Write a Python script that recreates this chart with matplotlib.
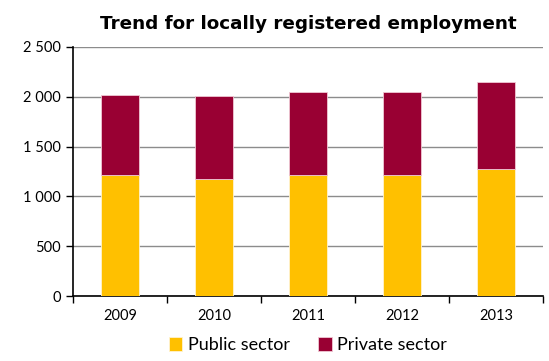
import numpy as np
import matplotlib.pyplot as plt
from matplotlib.ticker import FuncFormatter

plt.rcParams['font.family'] = ['Lato', 'DejaVu Sans']

years = ['2009', '2010', '2011', '2012', '2013']
public = [1211, 1178, 1211, 1211, 1275]
private = [805, 828, 839, 839, 872]

yellow = '#FFC000'
maroon = '#990033'

fig = plt.figure(figsize=(5.49, 3.61), dpi=100)
ax = fig.add_axes([0.133, 0.18, 0.856, 0.69])

x = np.arange(len(years))
ax.bar(x, public, width=0.4, color=yellow, edgecolor='#fff3d0', linewidth=0.6,
       label='Public sector', zorder=3)
ax.bar(x, private, width=0.4, bottom=public, color=maroon, edgecolor='#f0c8d4',
       linewidth=0.6, label='Private sector', zorder=3)

ax.set_xlim(-0.5, 4.5)
ax.set_ylim(0, 2500)
ax.set_yticks(np.arange(0, 2501, 500))
ax.yaxis.set_major_formatter(FuncFormatter(lambda v, p: f'{int(v):,}'.replace(',', ' ')))
ax.yaxis.grid(True, color='#8c8c8c', linewidth=1.0, zorder=0)

# category boundaries get the tick marks, labels sit under the bars
ax.set_xticks(np.arange(-0.5, 4.6, 1.0))
ax.set_xticklabels([])
ax.set_xticks(x, minor=True)
ax.set_xticklabels(years, minor=True)
ax.tick_params(axis='x', which='minor', length=0, pad=9)
ax.tick_params(axis='x', which='major', length=5, width=1, direction='out')
ax.tick_params(axis='y', length=5, width=1, direction='out', pad=4)
ax.tick_params(which='both', labelsize=10.5, colors='black')

for s in ['top', 'right']:
    ax.spines[s].set_visible(False)
for s in ['left', 'bottom']:
    ax.spines[s].set_color('black')
    ax.spines[s].set_linewidth(1.2)

ax.set_title('Trend for locally registered employment', fontsize=13.2,
             fontweight='bold', family='DejaVu Sans', pad=13)

ax.legend(loc='upper center', bbox_to_anchor=(0.5, -0.115), ncol=2, frameon=False,
          fontsize=13, handlelength=0.75, handleheight=0.75, handletextpad=0.3,
          columnspacing=1.6, borderpad=0.2)

fig.savefig('out.png', dpi=100)
